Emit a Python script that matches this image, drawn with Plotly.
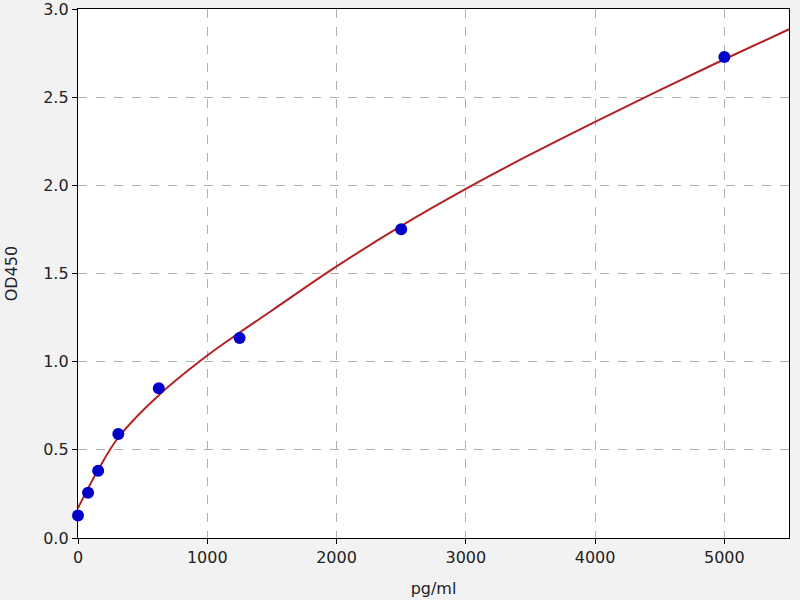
import plotly.graph_objects as go

# Standard points
conc = [0, 78, 156, 312, 625, 1250, 2500, 5000]
od = [0.128, 0.257, 0.382, 0.590, 0.849, 1.134, 1.751, 2.728]

# Fitted curve
curve_x = [0, 70, 155, 312, 625, 1000, 1250, 1500, 2000, 2500, 3000, 3500, 4000, 4500, 5000, 5500]
curve_y = [0.17, 0.27, 0.385, 0.57, 0.81, 1.035, 1.165, 1.29, 1.54, 1.77, 1.98, 2.175, 2.36, 2.54, 2.715, 2.885]

x_ticks = [0, 1000, 2000, 3000, 4000, 5000]
y_ticks = [0.0, 0.5, 1.0, 1.5, 2.0, 2.5, 3.0]
y_tick_text = ["0.0", "0.5", "1.0", "1.5", "2.0", "2.5", "3.0"]

fig = go.Figure()
fig.add_trace(go.Scatter(
    x=curve_x, y=curve_y, mode="lines", line_shape="spline",
    line=dict(color="#b22222", width=2), hoverinfo="skip", showlegend=False))
fig.add_trace(go.Scatter(
    x=conc, y=od, mode="markers",
    marker=dict(color="#0000c8", size=12, line=dict(width=0)), showlegend=False, cliponaxis=False))

axis_common = dict(
    showline=True, linecolor="black", linewidth=1.3, mirror=True,
    ticks="outside", ticklen=5, tickcolor="black", tickwidth=1.2,
    showgrid=True, gridcolor="#b0b0b0", griddash="dash", gridwidth=1,
    zeroline=False, automargin=False, ticklabeloverflow="allow",
    tickfont=dict(family="DejaVu Sans", size=16, color="#222222"),
)

fig.update_layout(
    width=800, height=600,
    paper_bgcolor="#f2f2f2", plot_bgcolor="white",
    margin=dict(l=78, r=11, t=9, b=62),
    font=dict(family="DejaVu Sans", size=16, color="#222222"),
    xaxis=dict(range=[0, 5500], tickvals=x_ticks,
               title=dict(text="pg/ml", font=dict(size=16), standoff=16), **axis_common),
    yaxis=dict(range=[0, 3.0], tickvals=y_ticks, ticktext=y_tick_text,
               title=dict(text="OD450", font=dict(size=16), standoff=21), **axis_common),
)

fig.write_html("out.html", config={"displayModeBar": False},
               post_script="document.body.style.margin='0';")
